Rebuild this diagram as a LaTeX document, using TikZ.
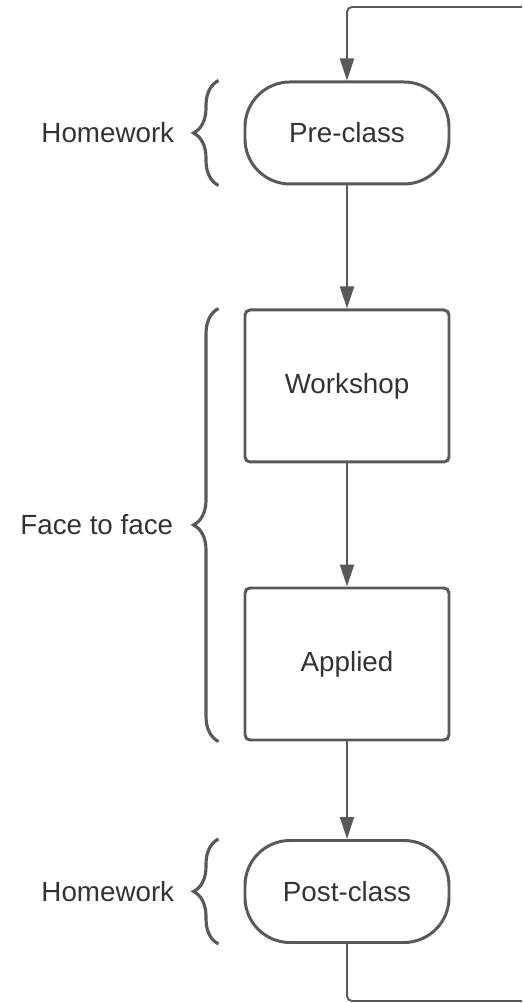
\documentclass[tikz,border=0pt]{standalone}
\usepackage{fontspec}
\setmainfont{Liberation Sans}
\usetikzlibrary{arrows.meta,decorations.pathreplacing,calc}
\definecolor{linegray}{HTML}{595959}
\definecolor{textgray}{HTML}{333333}

\tikzset{
  block/.style={draw=linegray, line width=1.7pt, rounded corners=0.1cm,
    minimum width=4.08cm, minimum height=3.04cm, text=textgray, inner sep=0pt},
  terminal/.style={block, rounded corners=0.9cm, minimum height=2.04cm},
  flow/.style={draw=linegray, line width=1.1pt, rounded corners=0.1cm,
    -{Triangle[length=0.44cm,width=0.28cm]}},
  bracket/.style={draw=linegray, line width=1.8pt,
    decorate, decoration={brace, amplitude=0.5cm}},
  lbl/.style={text=textgray, inner sep=0pt, anchor=east}
}

\begin{document}
\begin{tikzpicture}[font=\fontsize{15.8}{18}\selectfont]
      \useasboundingbox (0,0) rectangle (10.44,20.06);
      \node[terminal] (pre) at (6.94,17.40) {Pre-class};
      \node[block] (work) at (6.94,12.34) {Workshop};
      \node[block] (appl) at (6.94,6.78) {Applied};
      \node[terminal] (post) at (6.94,2.23) {Post-class};
      \coordinate (loopin) at (10.44,19.92);
      \coordinate (loopout) at (10.44,0.04);
      % connectors
      \draw[flow] (loopin) -| (pre.north);
      \draw[flow] (pre) -- (work);
      \draw[flow] (work) -- (appl);
      \draw[flow] (appl) -- (post);
      \draw[draw=linegray, line width=1.1pt, rounded corners=0.1cm] (post.south) |- (loopout);
      % braces and their labels
      \draw[bracket] ([xshift=-0.5cm]pre.south west) -- ([xshift=-0.5cm]pre.north west);
      \draw[bracket] ([xshift=-0.5cm]appl.south west) -- ([xshift=-0.5cm]work.north west);
      \draw[bracket] ([xshift=-0.5cm]post.south west) -- ([xshift=-0.5cm]post.north west);
      \node[lbl] (hwpre) at ([xshift=-1.38cm]pre.west) {Homework};
      \node[lbl] (ftf) at ([xshift=-1.4cm]$(work.north west)!0.5!(appl.south west)$) {Face to face};
      \node[lbl] (hwpost) at ([xshift=-1.38cm]post.west) {Homework};
\end{tikzpicture}
\end{document}
